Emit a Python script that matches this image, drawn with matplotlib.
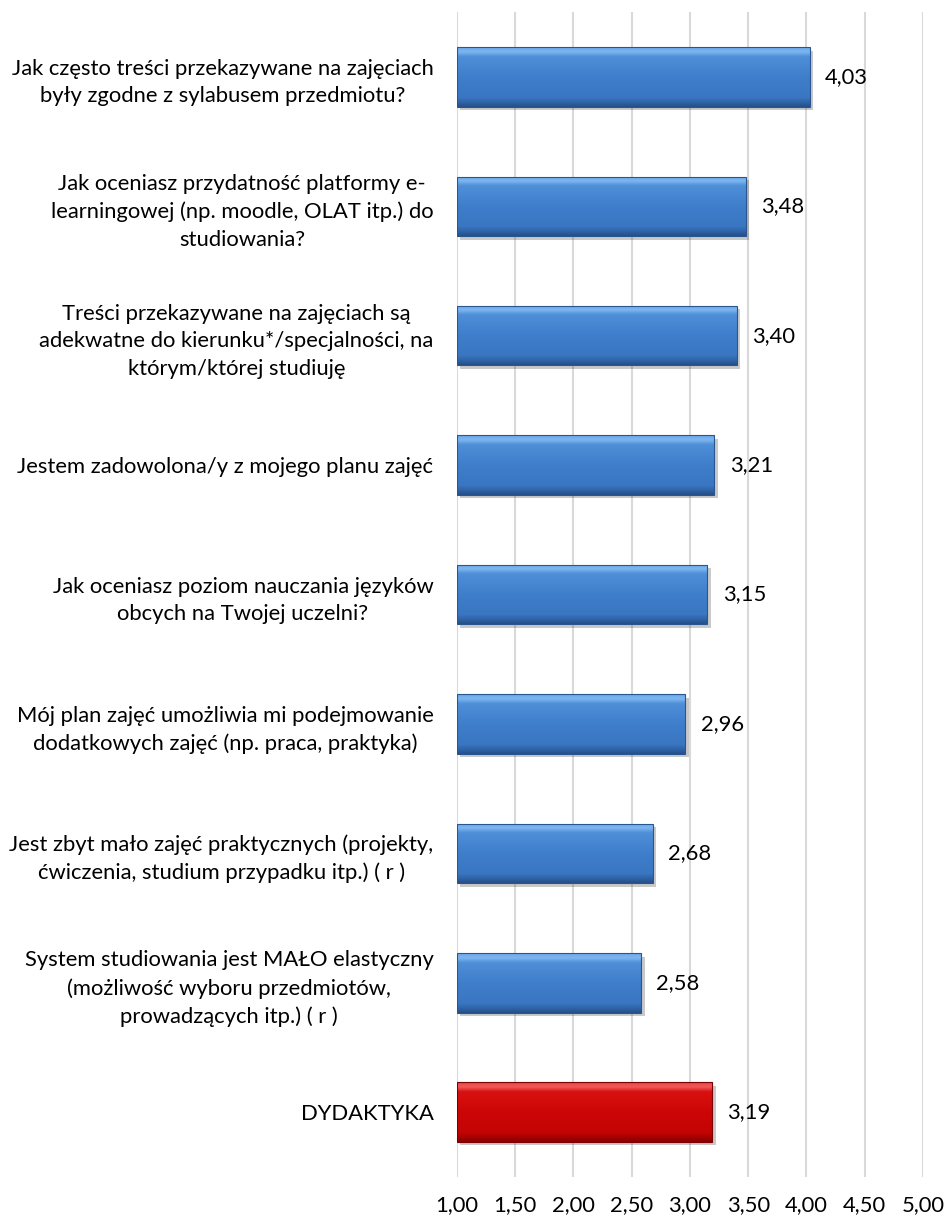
import numpy as np
import matplotlib.pyplot as plt
from matplotlib.colors import LinearSegmentedColormap
import matplotlib.patheffects as pe

# dane
labels = [
    "Jak często treści przekazywane na zajęciach\nbyły zgodne z sylabusem przedmiotu?",
    "Jak oceniasz przydatność platformy e-\nlearningowej (np. moodle, OLAT itp.) do\nstudiowania?",
    "Treści przekazywane na zajęciach są\nadekwatne do kierunku*/specjalności, na\nktórym/której studiuję",
    "Jestem zadowolona/y z mojego planu zajęć",
    "Jak oceniasz poziom nauczania języków\nobcych na Twojej uczelni?",
    "Mój plan zajęć umożliwia mi podejmowanie\ndodatkowych zajęć (np. praca, praktyka)",
    "Jest zbyt mało zajęć praktycznych (projekty,\nćwiczenia, studium przypadku itp.) ( r )",
    "System studiowania jest MAŁO elastyczny\n(możliwość wyboru przedmiotów,\nprowadzących itp.) ( r )",
    "DYDAKTYKA",
]
values = [4.03, 3.48, 3.40, 3.21, 3.15, 2.96, 2.68, 2.58, 3.19]
x_ticks = [1.0, 1.5, 2.0, 2.5, 3.0, 3.5, 4.0, 4.5, 5.0]

plt.rcParams['font.family'] = ['Lato', 'DejaVu Sans']
FS = 15.8

# gradient z efektem "skosu" (jasna góra, ciemny dół)
blue_cmap = LinearSegmentedColormap.from_list(
    "blue", [(0.0, "#6aa8ea"), (0.08, "#7db6f0"), (0.16, "#4f8fd8"),
             (0.5, "#3f7ecb"), (0.84, "#3a76c2"), (0.92, "#2f64a8"),
             (1.0, "#264f88")])
red_cmap = LinearSegmentedColormap.from_list(
    "red", [(0.0, "#e84545"), (0.08, "#f05a5a"), (0.16, "#d81010"),
            (0.5, "#cc0606"), (0.84, "#c40404"), (0.92, "#a80000"),
            (1.0, "#860000")])

fig = plt.figure(figsize=(9.45, 12.18), dpi=100)
ax = fig.add_axes([0.4836, 0.0337, 0.4931, 0.9563])

y = np.arange(len(values))
base = 1.0
bars = ax.barh(y, [v - base for v in values], left=base, height=0.46,
               color='none', edgecolor='none', zorder=4)

grad = np.linspace(0, 1, 256).reshape(-1, 1)
for i, bar in enumerate(bars):
    last = i == len(values) - 1
    cmap = red_cmap if last else blue_cmap
    edge = "#7a0000" if last else "#2a5690"
    x0, y0 = bar.get_x(), bar.get_y()
    w, h = bar.get_width(), bar.get_height()
    # cień
    shadow = plt.Rectangle((x0, y0), w, h, facecolor='white', edgecolor='none', zorder=2)
    shadow.set_path_effects([pe.SimplePatchShadow(offset=(2.5, -2.5), alpha=0.3)])
    ax.add_patch(shadow)
    im = ax.imshow(grad, extent=[x0, x0 + w, y0 + h, y0], origin='upper',
                   aspect='auto', cmap=cmap, zorder=3, interpolation='bilinear')
    im.set_clip_path(bar)
    bar.set_edgecolor(edge)
    bar.set_linewidth(0.8)
    ax.annotate(f"{values[i]:.2f}".replace('.', ','), xy=(values[i], y[i]),
                xytext=(11, 0), textcoords='offset points',
                va='center', ha='left', fontsize=FS, color='#000000')

ax.set_xlim(1.0, 5.0)
ax.set_ylim(len(values) - 0.5, -0.5)
ax.set_xticks(x_ticks)
ax.set_xticklabels([f"{t:.2f}".replace('.', ',') for t in x_ticks], fontsize=FS)
ax.set_yticks(y)
ax.set_yticklabels(labels, fontsize=FS, multialignment='center', linespacing=1.45)
ax.tick_params(axis='both', length=0)
ax.tick_params(axis='x', pad=13)
ax.tick_params(axis='y', pad=17)
ax.xaxis.grid(True, color='#d9d9d9', linewidth=1.5, zorder=0)
ax.set_axisbelow(True)
for s in ax.spines.values():
    s.set_visible(False)

fig.savefig("out.png", dpi=100)
